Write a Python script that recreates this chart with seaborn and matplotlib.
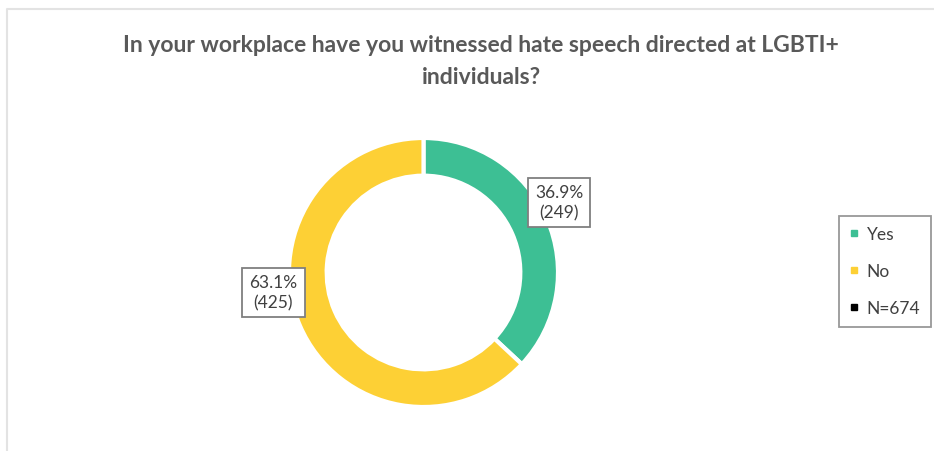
import matplotlib.pyplot as plt
import seaborn as sns
from matplotlib.lines import Line2D

sns.set_style("white")
plt.rcParams['font.family'] = ['Lato', 'DejaVu Sans']

# data
answers = ["Yes", "No"]
counts = [249, 425]
colors = ["#3dbf94", "#fdd035"]
total = sum(counts)

fig = plt.figure(figsize=(9.34, 4.52), dpi=100)

# donut, centre ~ (423.5, 273.5), radius ~134.5 px
cx, cy, r = 423.5, 273.5, 134.5
pie_ax = fig.add_axes([(cx - r) / 934, 1 - (cy + r) / 452, 2 * r / 934, 2 * r / 452])
wedges, _ = pie_ax.pie(counts, colors=colors, startangle=90, counterclock=False,
                       radius=1.0, wedgeprops=dict(width=0.28, edgecolor="white", linewidth=3))
pie_ax.set_xlim(-1, 1)
pie_ax.set_ylim(-1, 1)
pie_ax.set_aspect("auto")
pie_ax.set_zorder(1)

# overlay in pixel coords for text, labels and legend
ax = fig.add_axes([0.0, 0.0, 1.0, 1.0])
ax.set_xlim(0, 934)
ax.set_ylim(452, 0)
ax.axis("off")
ax.set_zorder(2)

# light frame at top/left like the original screenshot
ax.plot([7, 7, 934], [452, 10, 10], color="#e3e3e3", lw=1.5)

# labels
label_pos = [(559, 203.5), (273.5, 293.5)]
for (x, y), c in zip(label_pos, counts):
    ax.text(x, y, f"{c / total * 100:.1f}%\n({c})", ha="center", va="center",
            fontsize=12.5, color="#404040", linespacing=1.3,
            bbox=dict(boxstyle="square,pad=0.4", fc="white", ec="#7f7f7f", lw=1.3))

ax.text(481, 45, "In your workplace have you witnessed hate speech directed at LGBTI+",
        ha="center", va="center", fontsize=16.5, fontweight="bold", color="#595959")
ax.text(481, 77, "individuals?", ha="center", va="center",
        fontsize=16.5, fontweight="bold", color="#595959")

handles = [Line2D([], [], marker="s", ls="", color=colors[0], markersize=4.5),
           Line2D([], [], marker="s", ls="", color=colors[1], markersize=4.5),
           Line2D([], [], marker="s", ls="", color="black", markersize=4.5)]
leg = ax.legend(handles, answers + [f"N={total}"], loc="upper left",
                bbox_to_anchor=(839 / 934, 1 - 217 / 452), borderaxespad=0,
                frameon=True, fancybox=False,
                handletextpad=0.45, handlelength=0.55, labelspacing=1.2, borderpad=0.6,
                prop=dict(size=12.5))
leg.get_frame().set_edgecolor("#7f7f7f")
leg.get_frame().set_linewidth(1.3)
for t in leg.get_texts():
    t.set_color("#404040")

fig.savefig("out.png", dpi=100)
